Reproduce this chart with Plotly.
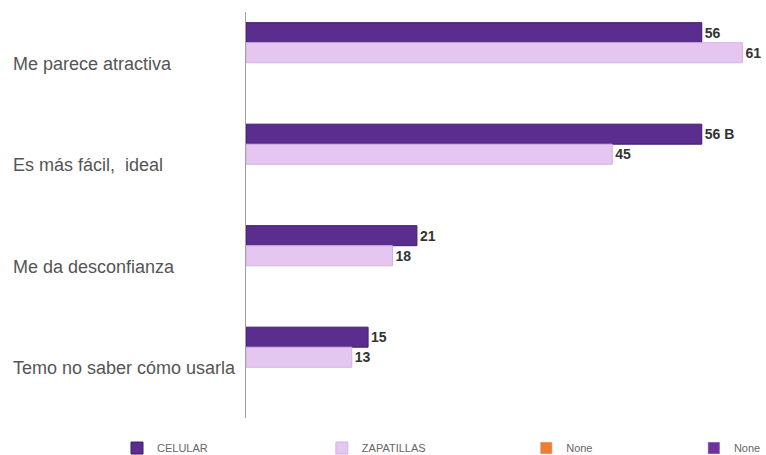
import plotly.graph_objects as go

categories = ["Me parece atractiva", "Es más fácil,  ideal", "Me da desconfianza", "Temo no saber cómo usarla"]
celular = [56, 56, 21, 15]
celular_labels = ["56", "56 B", "21", "15"]
zapatillas = [61, 45, 18, 13]
zapatillas_labels = ["61", "45", "18", "13"]
none1 = [None, None, None, None]
none2 = [None, None, None, None]

label_font = dict(size=14, color="#333333", family="Liberation Sans, Arial", weight="bold")

fig = go.Figure()
fig.add_trace(go.Bar(y=categories, x=celular, orientation="h", name="CELULAR", legend="legend",
                     marker=dict(color="#5b2d8e", line=dict(color="#3f1d6b", width=1)),
                     text=celular_labels, textposition="outside", cliponaxis=False,
                     textfont=label_font))
fig.add_trace(go.Bar(y=categories, x=zapatillas, orientation="h", name="ZAPATILLAS", legend="legend2",
                     marker=dict(color="#e4c6f0", line=dict(color="#d3b3e2", width=1)),
                     text=zapatillas_labels, textposition="outside", cliponaxis=False,
                     textfont=label_font))
fig.add_trace(go.Bar(y=categories, x=none1, orientation="h", name="None", legend="legend3",
                     marker=dict(color="#ed7d31")))
fig.add_trace(go.Bar(y=categories, x=none2, orientation="h", name="None", legend="legend4",
                     marker=dict(color="#7030a0")))

for c in categories:
    fig.add_annotation(x=-0.455, xref="paper", xanchor="left", y=c, yref="y",
                       text=c, showarrow=False, yshift=-1,
                       font=dict(size=18, color="#555555", family="Liberation Sans, Arial"))

leg_common = dict(orientation="h", xanchor="left", y=-0.074, yanchor="middle",
                  font=dict(size=11, color="#666666", family="Liberation Sans Narrow, Liberation Sans, Arial"),
                  itemwidth=30, bgcolor="rgba(0,0,0,0)")

fig.update_layout(
    width=766, height=455,
    margin=dict(l=246, r=4, t=12, b=37, autoexpand=False),
    paper_bgcolor="white", plot_bgcolor="white",
    barmode="group", bargap=0.21, bargroupgap=0,
    font=dict(family="Liberation Sans, Arial", color="#555555"),
    showlegend=True,
    legend=dict(x=-0.25, **leg_common),
    legend2=dict(x=0.147, **leg_common),
    legend3=dict(x=0.543, **leg_common),
    legend4=dict(x=0.868, **leg_common),
    xaxis=dict(range=[0, 63.4], showgrid=False, zeroline=False, showticklabels=False,
               showline=False, ticks=""),
    yaxis=dict(autorange="reversed", showgrid=False, showticklabels=False, ticks="",
               showline=True, linecolor="#a0a0a0", linewidth=1),
)

fig.write_html("out.html")
